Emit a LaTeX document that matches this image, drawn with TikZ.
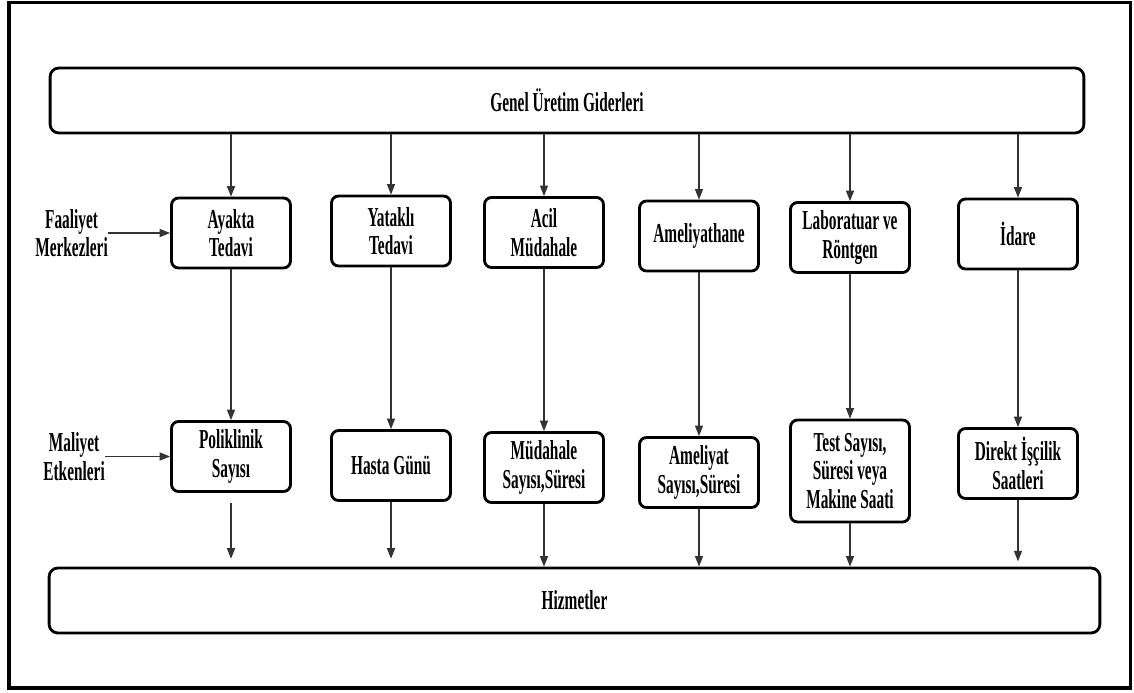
\documentclass[tikz,border=0pt]{standalone}
\usepackage{fontspec}
\setmainfont{Liberation Serif}[FakeStretch=0.56]
\usetikzlibrary{arrows.meta, positioning}

\newcommand{\diagfont}{\fontsize{15.6}{16.2}\selectfont\bfseries}

\begin{document}
\begin{tikzpicture}[
  x=0.02cm, y=-0.02cm,
  box/.style={rectangle, draw, line width=1.6pt, minimum width=2.38cm, minimum height=1.4cm, align=center, font=\diagfont, rounded corners=4pt},
  widebox/.style={rectangle, draw, line width=1.6pt, minimum height=1.3cm, align=center, font=\diagfont, rounded corners=5pt},
  lbl/.style={align=center, font=\diagfont, inner sep=0pt},
  arrow/.style={-{Triangle[length=6pt, width=4.6pt]}, line width=0.7pt, color=black!80},
]
\useasboundingbox (0,0) rectangle (1134,693);

% Frame
\draw[line width=2.2pt] (9,2.5) rectangle (1130.5,688);

% Top — overhead costs
\node[widebox, minimum width=20.68cm] (genel) at (567,100.5) {Genel Üretim Giderleri};

% Row 1 — activity centres
\node[box] (ayakta) at (231,233) {Ayakta\\Tedavi};
\node[box] (yatakli) at (391,231) {Yataklı\\Tedavi};
\node[box] (acil) at (544,232.5) {Acil\\Müdahale};
\node[box] (ameliyathane) at (699,236) {Ameliyathane};
\node[box] (lab) at (850,237.5) {Laboratuar ve\\Röntgen};
\node[box] (idare) at (1018,234) {İdare};

% Row 2 — cost drivers
\node[box] (poliklinik) at (231,456.5) {Poliklinik\\Sayısı};
\node[box] (hasta) at (391,465.5) {Hasta Günü};
\node[box] (mudahale) at (544,467.5) {Müdahale\\Sayısı,Süresi};
\node[box] (ameliyat) at (699,472.5) {Ameliyat\\Sayısı,Süresi};
\node[box, minimum height=2.04cm] (test) at (850,471) {Test Sayısı,\\Süresi veya\\Makine Saati};
\node[box] (direkt) at (1018,463.5) {Direkt İşçilik\\Saatleri};

% Bottom — services
\node[widebox, minimum width=21.02cm] (hizmetler) at (574.5,600.5) {Hizmetler};

% Side labels
\node[lbl, left=1.24cm of ayakta] (faaliyet) {Faaliyet\\Merkezleri};
\node[lbl, left=1.3cm of poliklinik] (maliyet) {Maliyet\\Etkenleri};

% Arrows
\draw[arrow] (faaliyet.east) -- (ayakta.west);
\draw[arrow] (maliyet.east) -- (poliklinik.west);

\draw[arrow] (ayakta |- genel.south) -- (ayakta.north);
\draw[arrow] (yatakli |- genel.south) -- (yatakli.north);
\draw[arrow] (acil |- genel.south) -- (acil.north);
\draw[arrow] (ameliyathane |- genel.south) -- (ameliyathane.north);
\draw[arrow] (lab |- genel.south) -- (lab.north);
\draw[arrow] (idare |- genel.south) -- (idare.north);

\draw[arrow] (ayakta) -- (poliklinik);
\draw[arrow] (yatakli) -- (hasta);
\draw[arrow] (acil) -- (mudahale);
\draw[arrow] (ameliyathane) -- (ameliyat);
\draw[arrow] (lab) -- (test);
\draw[arrow] (idare) -- (direkt);

\draw[arrow, shorten <=5.7pt, shorten >=4.5pt] (poliklinik.south) -- (poliklinik.south |- hizmetler.north);
\draw[arrow, shorten >=4.5pt] (hasta.south) -- (hasta.south |- hizmetler.north);
\draw[arrow] (mudahale.south) -- (mudahale.south |- hizmetler.north);
\draw[arrow] (ameliyat.south) -- (ameliyat.south |- hizmetler.north);
\draw[arrow] (test.south) -- (test.south |- hizmetler.north);
\draw[arrow, shorten >=3pt] (direkt.south) -- (direkt.south |- hizmetler.north);

\end{tikzpicture}
\end{document}
